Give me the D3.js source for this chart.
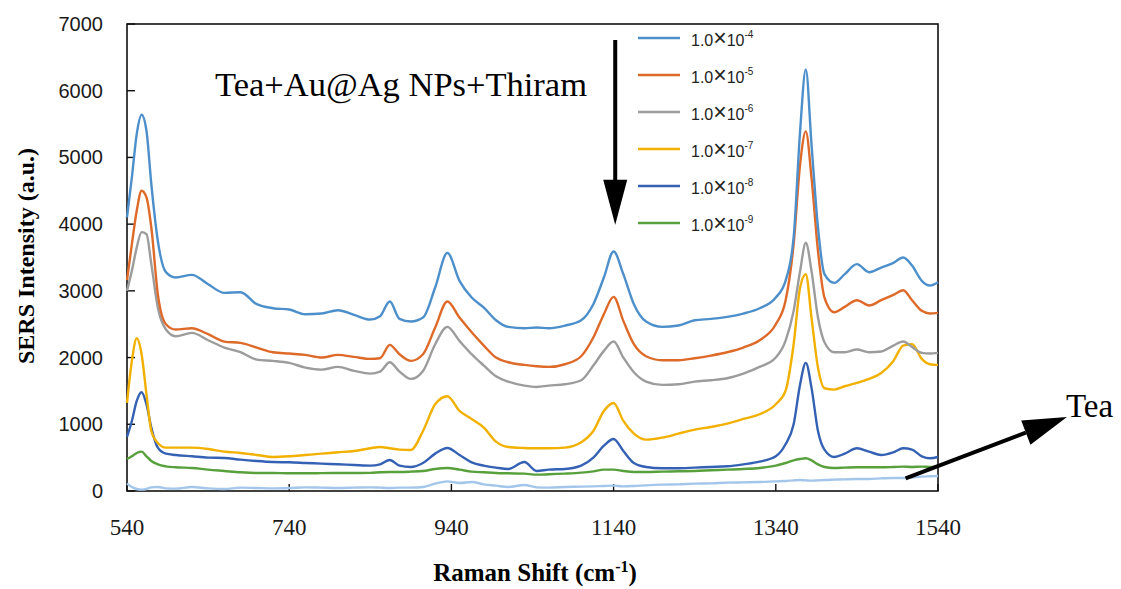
<!DOCTYPE html>
<html>
<head>
<meta charset="utf-8">
<script src="https://cdn.jsdelivr.net/npm/d3@7"></script>
<style>
  body { margin: 0; background: #fff; }
  svg { display: block; }
</style>
</head>
<body>
<div id="chart"></div>
<script>

// Raman shift (cm-1) sample points, shared by every spectrum
var shift = [540, 546, 552, 558, 564, 570, 578, 588, 600,
    620, 640, 660, 680, 700, 720, 740, 760, 780, 800, 820, 840,
    852, 864, 876, 890, 905, 920, 935, 950, 965, 980, 995, 1010,
    1030, 1045, 1060, 1080, 1100, 1115, 1128, 1140, 1152, 1165, 1180, 1200,
    1220, 1240, 1260, 1280, 1300, 1320, 1340, 1352, 1362, 1370, 1377, 1384,
    1392, 1400, 1412, 1425, 1440, 1455, 1470, 1485, 1497, 1508, 1520, 1530, 1540];

var thiram4 = [4100, 4700, 5350, 5640, 5400, 4600, 3750, 3280, 3200,
    3240, 3100, 2970, 2980, 2800, 2740, 2720, 2650, 2660, 2710, 2640, 2570,
    2620, 2840, 2580, 2540, 2600, 3050, 3570, 3150, 2900, 2750, 2560, 2460,
    2440, 2450, 2440, 2480, 2560, 2800, 3200, 3590, 3250, 2800, 2540, 2460,
    2480, 2560, 2580, 2610, 2660, 2740, 2900, 3150, 3800, 5400, 6320, 5200,
    3950, 3250, 3120, 3250, 3400, 3280, 3350, 3420, 3500, 3380, 3150, 3080, 3130];

var thiram5 = [3160, 3700, 4200, 4500, 4400, 3950, 2950, 2500, 2420,
    2440, 2350, 2240, 2220, 2150, 2080, 2060, 2040, 2000, 2040, 2010, 1980,
    1990, 2190, 2050, 1950, 2050, 2450, 2840, 2600, 2380, 2180, 2000, 1930,
    1890, 1870, 1860, 1900, 2020, 2300, 2650, 2910, 2550, 2200, 2020, 1960,
    1960, 1990, 2030, 2080, 2150, 2260, 2500, 2850, 3700, 4900, 5390, 4700,
    3600, 2900, 2680, 2760, 2860, 2780, 2860, 2940, 3010, 2860, 2700, 2660, 2670];

var thiram6 = [3000, 3300, 3650, 3880, 3850, 3400, 2750, 2420, 2320,
    2370, 2260, 2150, 2080, 1970, 1950, 1920, 1850, 1820, 1860, 1800, 1760,
    1790, 1930, 1790, 1680, 1800, 2200, 2460, 2250, 2050, 1880, 1720, 1640,
    1580, 1560, 1580, 1600, 1660, 1880, 2100, 2240, 2000, 1780, 1640, 1590,
    1600, 1640, 1660, 1690, 1760, 1860, 2000, 2250, 2700, 3300, 3720, 3300,
    2600, 2230, 2080, 2080, 2120, 2080, 2090, 2180, 2240, 2160, 2070, 2060, 2070];

var thiram7 = [1320, 1950, 2290, 2050, 1450, 900, 720, 650, 650,
    650, 630, 590, 570, 540, 510, 520, 540, 560, 580, 600, 640,
    660, 640, 620, 615, 900, 1300, 1420, 1200, 1080, 950, 740, 660,
    645, 640, 640, 650, 730, 900, 1200, 1320, 1050, 860, 770, 800,
    860, 920, 960, 1010, 1080, 1150, 1300, 1500, 2200, 3050, 3250, 2600,
    1850, 1540, 1520, 1570, 1620, 1680, 1770, 1950, 2180, 2200, 1980, 1900, 1890];

var thiram8 = [810, 1050, 1350, 1480, 1300, 950, 650, 560, 540,
    520, 500, 495, 470, 450, 435, 430, 420, 410, 400, 390, 380,
    400, 465, 380, 360, 420, 560, 645, 540, 430, 380, 350, 330,
    435, 300, 320, 330, 380, 500, 680, 780, 600, 420, 360, 340,
    340, 350, 360, 370, 400, 440, 520, 700, 1000, 1600, 1920, 1550,
    900, 620, 510, 560, 640, 590, 540, 580, 640, 620, 520, 490, 510];

var thiram9 = [480, 520, 570, 590, 520, 450, 400, 370, 355,
    345, 320, 300, 280, 270, 270, 265, 265, 268, 270, 270, 272,
    280, 285, 285, 290, 300, 330, 345, 320, 290, 280, 270, 265,
    260, 245, 250, 260, 275, 295, 320, 320, 300, 285, 285, 290,
    295, 300, 310, 320, 330, 345, 380, 420, 460, 480, 490, 460,
    400, 360, 345, 350, 355, 355, 355, 360, 365, 360, 365, 360, 370];

var teaOnly = [110, 60, 30, 20, 30, 55, 60, 40, 35,
    60, 40, 30, 50, 45, 40, 45, 55, 50, 45, 50, 55,
    50, 45, 50, 50, 60, 110, 145, 120, 135, 100, 80, 60,
    90, 55, 50, 60, 65, 70, 75, 80, 70, 75, 85, 95,
    100, 110, 115, 125, 130, 135, 145, 150, 160, 165, 160, 155,
    160, 165, 170, 175, 180, 180, 190, 195, 195, 200, 215, 220, 225];

var seriesNames = ['1.0×10-4', '1.0×10-5', '1.0×10-6', '1.0×10-7', '1.0×10-8', '1.0×10-9'];
var exponents = ['-4', '-5', '-6', '-7', '-8', '-9'];
var xTicks = [540, 740, 940, 1140, 1340, 1540];
var yTicks = [0, 1000, 2000, 3000, 4000, 5000, 6000, 7000];

var colors = ['#4d8fcb', '#de6a2a', '#9c9c9c', '#f2b100', '#3461b3', '#58a03c'];
var teaColor = '#a3c6ea';

var width = 1121,
    height = 589;

var xScale = d3.scaleLinear()
    .domain([540, 1540])
    .range([127, 938])

var yScale = d3.scaleLinear()
    .domain([0, 7000])
    .range([491, 24])

var svg = d3.select('#chart')
    .append('svg')
    .attr('width', width)
    .attr('height', height)

// frame
svg.append('rect')
    .attr('x', xScale(540))
    .attr('y', yScale(7000))
    .attr('width', xScale(1540) - xScale(540))
    .attr('height', yScale(0) - yScale(7000))
    .attr('fill', 'none')
    .attr('stroke', '#111')
    .attr('stroke-width', 1.6)

// ticks point inward
svg.selectAll('.ytick')
    .data(yTicks)
    .enter()
    .append('line')
    .attr('x1', xScale(540))
    .attr('x2', xScale(540) + 8)
    .attr('y1', d => yScale(d))
    .attr('y2', d => yScale(d))
    .attr('stroke', '#111')
    .attr('stroke-width', 1.4)

svg.selectAll('.xtick')
    .data(xTicks)
    .enter()
    .append('line')
    .attr('x1', d => xScale(d))
    .attr('x2', d => xScale(d))
    .attr('y1', yScale(0))
    .attr('y2', yScale(0) - 7)
    .attr('stroke', '#111')
    .attr('stroke-width', 1.4)

svg.selectAll('.ylab')
    .data(yTicks)
    .enter()
    .append('text')
    .attr('x', 103)
    .attr('y', d => yScale(d) + 7)
    .attr('text-anchor', 'end')
    .style('font-family', 'Liberation Sans, Arial, sans-serif')
    .style('font-size', '20px')
    .style('fill', '#1a1a1a')
    .text(d => d)

svg.selectAll('.xlab')
    .data(xTicks)
    .enter()
    .append('text')
    .attr('x', d => xScale(d))
    .attr('y', 535)
    .attr('text-anchor', 'middle')
    .style('font-family', 'Liberation Serif, Times New Roman, serif')
    .style('font-size', '23px')
    .style('fill', '#1a1a1a')
    .text(d => d)

// axis titles
svg.append('text')
    .attr('transform', 'translate(34,256) rotate(-90)')
    .attr('text-anchor', 'middle')
    .style('font-family', 'Liberation Serif, Times New Roman, serif')
    .style('font-size', '24px')
    .style('font-weight', 'bold')
    .text('SERS Intensity (a.u.)')

var xTitle = svg.append('text')
    .attr('x', 535)
    .attr('y', 581)
    .attr('text-anchor', 'middle')
    .style('font-family', 'Liberation Serif, Times New Roman, serif')
    .style('font-size', '25px')
    .style('font-weight', 'bold')
xTitle.append('tspan').text('Raman Shift (cm')
xTitle.append('tspan').attr('dy', -9).style('font-size', '16px').text('-1')
xTitle.append('tspan').attr('dy', 9).text(')')

// spectra
var line = d3.line()
    .x((d, i) => xScale(shift[i]))
    .y(d => yScale(d))
    .curve(d3.curveMonotoneX)

svg.append('path')
    .datum(teaOnly)
    .attr('d', line)
    .attr('fill', 'none')
    .attr('stroke', teaColor)
    .attr('stroke-width', 2.4)

var allSeries = [thiram4, thiram5, thiram6, thiram7, thiram8, thiram9];

svg.selectAll('.spectrum')
    .data(allSeries.slice().reverse())
    .enter()
    .append('path')
    .attr('d', line)
    .attr('fill', 'none')
    .attr('stroke', (d, i) => colors[allSeries.length - 1 - i])
    .attr('stroke-width', 2.4)
    .attr('stroke-linejoin', 'round')

// annotation text
svg.append('text')
    .attr('x', 215)
    .attr('y', 96)
    .style('font-family', 'Liberation Serif, Times New Roman, serif')
    .style('font-size', '34.5px')
    .text('Tea+Au@Ag NPs+Thiram')

// down arrow over the 1140 band (concentration decreasing)
var downX = xScale(1142),
    downTop = yScale(6760),
    downTip = yScale(3990);
svg.append('line')
    .attr('x1', downX).attr('x2', downX)
    .attr('y1', downTop).attr('y2', downTip - 40)
    .attr('stroke', '#000')
    .attr('stroke-width', 4)
svg.append('path')
    .attr('d', 'M' + (downX - 12) + ',' + (downTip - 45) + 'L' + (downX + 12) + ',' + (downTip - 45) + 'L' + downX + ',' + downTip + 'Z')
    .attr('fill', '#000')

// legend
var legend = svg.selectAll('.legend')
    .data(seriesNames)
    .enter()
    .append('g')
    .attr('transform', (d, i) => 'translate(638,' + (38 + i * 37) + ')')

legend.append('line')
    .attr('x1', 0).attr('x2', 42)
    .attr('stroke', (d, i) => colors[i])
    .attr('stroke-width', 2.4)

var legText = legend.append('text')
    .attr('x', 53)
    .attr('y', 8)
    .style('font-family', 'Liberation Sans, Arial, sans-serif')
    .style('font-size', '16px')
    .style('fill', '#222')
legText.append('tspan').text('1.0')
legText.append('tspan').style('font-size', '23px').style('font-weight', '300').text('×')
legText.append('tspan').text('10')
legText.append('tspan')
    .attr('dy', -8)
    .style('font-size', '10px')
    .text((d, i) => exponents[i])

// arrow pointing at the bare tea spectrum
var teaStartX = xScale(1500),
    teaStartY = yScale(190),
    teaTipX = xScale(1699),
    teaTipY = yScale(1110);
var ang = Math.atan2(teaTipY - teaStartY, teaTipX - teaStartX);
var headLen = 44, headHalf = 13;
var baseX = teaTipX - headLen * Math.cos(ang),
    baseY = teaTipY - headLen * Math.sin(ang);
svg.append('line')
    .attr('x1', teaStartX).attr('y1', teaStartY)
    .attr('x2', baseX).attr('y2', baseY)
    .attr('stroke', '#000')
    .attr('stroke-width', 4)
svg.append('path')
    .attr('d', 'M' + teaTipX + ',' + teaTipY +
        'L' + (baseX + headHalf * Math.sin(ang)) + ',' + (baseY - headHalf * Math.cos(ang)) +
        'L' + (baseX - headHalf * Math.sin(ang)) + ',' + (baseY + headHalf * Math.cos(ang)) + 'Z')
    .attr('fill', '#000')

svg.append('text')
    .attr('x', 1066)
    .attr('y', 417)
    .style('font-family', 'Liberation Serif, Times New Roman, serif')
    .style('font-size', '33px')
    .text('Tea')

</script>
</body>
</html>
